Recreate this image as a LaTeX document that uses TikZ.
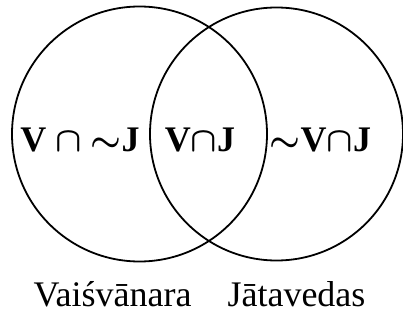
\documentclass[tikz,border=0pt]{standalone}
\usepackage{fontspec}
\setmainfont{Liberation Serif}
\begin{document}
\begin{tikzpicture}[x=0.5pt,y=0.5pt,line width=0.9pt,
    set/.style={draw,circle,inner sep=0pt},
    region/.style={font=\fontsize{18}{20}\selectfont\bfseries\boldmath,anchor=base},
    setname/.style={font=\fontsize{18}{20}\selectfont,anchor=base}]
    \useasboundingbox (0,0) rectangle (403,322);
    % the two sets
    \node[set,minimum size=127.5pt] (vai) at (139.5,188) {};
    \node[set,minimum size=126.5pt] (jat) at (276.5,188) {};
    % the three regions
    \node[region] (vnj) at (80,170) {V $\cap$ $\sim$J};
    \node[region] (vj) at (200,170) {V$\cap$J};
    \node[region] (njv) at (320.5,170) {$\sim$V$\cap$J};
    % names of the sets
    \node[setname] (vname) at (112.5,15) {Vaiśvānara};
    \node[setname] (jname) at (296.5,15) {Jātavedas};
\end{tikzpicture}
\end{document}
